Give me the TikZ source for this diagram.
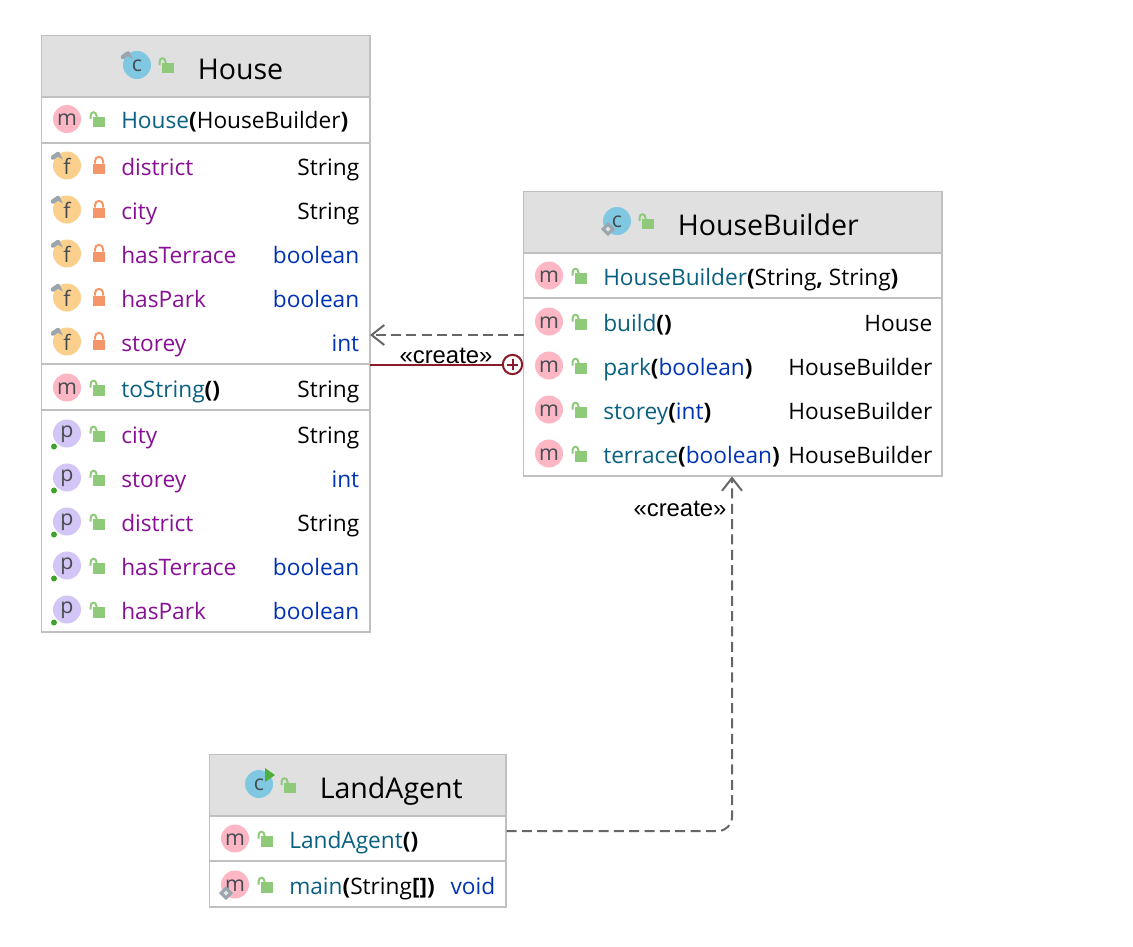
\documentclass[tikz,border=0pt]{standalone}
\usepackage{fontspec}
\usetikzlibrary{arrows.meta}
\setmainfont{Open Sans}
\newfontfamily\lblfont{Liberation Sans}
\definecolor{hdr}{HTML}{E0E0E0}
\definecolor{bord}{HTML}{C0C0C0}
\definecolor{icm}{HTML}{FCB6C4}
\definecolor{icf}{HTML}{FBD08C}
\definecolor{icp}{HTML}{D3C5F5}
\definecolor{icc}{HTML}{80C8E2}
\definecolor{lockg}{HTML}{8FC97A}
\definecolor{lockr}{HTML}{F5956A}
\definecolor{tealn}{HTML}{0A6080}
\definecolor{purp}{HTML}{871094}
\definecolor{kw}{HTML}{0033B3}
\definecolor{letter}{HTML}{454B50}
\definecolor{pincol}{HTML}{9AA5AE}
\definecolor{depcol}{HTML}{666666}
\definecolor{nestcol}{HTML}{8B1A2B}
\definecolor{dotg}{HTML}{3FA32B}
\definecolor{playg}{HTML}{4FAF3A}
\tikzset{
  x=0.75pt,y=-0.75pt,
  classbox/.style={draw=bord,line width=1.1pt,fill=white,inner sep=0pt,outer sep=0pt,anchor=north west},
  headbox/.style={fill=hdr,draw=none},
  sepline/.style={draw=bord,line width=1.5pt},
  rowtext/.style={anchor=base west,inner sep=0pt,font=\fontsize{17}{20}\selectfont},
  typetext/.style={anchor=base east,inner sep=0pt,font=\fontsize{17}{20}\selectfont},
  titletext/.style={anchor=base west,inner sep=0pt,font=\fontsize{21.4}{25}\selectfont,text=black},
  iconcirc/.style={circle,inner sep=0pt,minimum size=21pt,draw=none},
  iconletter/.style={anchor=center,inner sep=0pt,text=letter,font=\fontsize{16}{18}\selectfont},
  depline/.style={draw=depcol,line width=1.5pt,dash pattern=on 7.5pt off 4pt},
  deparrow/.style={depline,-{Straight Barb[length=9.5pt,width=15pt,line width=1.5pt]}},
  nestline/.style={draw=nestcol,line width=1.5pt},
  nestcirc/.style={circle,draw=nestcol,line width=1.5pt,fill=white,minimum size=14.5pt,inner sep=0pt},
  steretext/.style={anchor=base,inner sep=0pt,font=\lblfont\fontsize{17.9}{20}\selectfont,text=black},
}
\newcommand{\OpenLock}[2]{\begin{scope}[shift={(#1,#2)}]
  \fill[lockg] (-6,-2.5) rectangle (6,8);
  \draw[lockg,line width=1.5pt] (-8.5,0) -- (-8.5,-3) .. controls (-8.5,-8) and (-2.5,-8) .. (-2.5,-3) -- (-2.5,-2);
\end{scope}}
\newcommand{\ClosedLock}[2]{\begin{scope}[shift={(#1,#2)}]
  \fill[lockr] (-6,-2) rectangle (6,8.5);
  \draw[lockr,line width=1.5pt] (-4,-2) -- (-4,-4.5) .. controls (-4,-10) and (4,-10) .. (4,-4.5) -- (4,-2);
\end{scope}}
\newcommand{\FinalPin}[2]{\begin{scope}[shift={(#1,#2)}]
  \draw[pincol,line width=3.4pt,line cap=round] (-14,-8) -- (-9,-11.5);
  \fill[pincol] (-11,-10) -- (-4,-6) -- (-7,-12) -- cycle;
\end{scope}}
\newcommand{\PkgDiamond}[2]{\begin{scope}[shift={(#1,#2)}]
  \fill[pincol] (0,-7) -- (7,0) -- (0,7) -- (-7,0) -- cycle;
  \fill[white!70!pincol] (0,-2.5) -- (2.5,0) -- (0,2.5) -- (-2.5,0) -- cycle;
\end{scope}}
\newcommand{\PropDot}[2]{\fill[dotg] (#1-13,#2+13) circle (3);}
% \Icon{id}{x}{y}{colour}{letter}
\newcommand{\Icon}[5]{\node[iconcirc,fill=#4] (#1) at (#2,#3) {};
  \node[iconletter] (#1-l) at (#2,#3+1) {#5};}
% \Row{id}{icon x}{baseline}{colour}{letter}{lock macro}{name colour}{name}
\newcommand{\Row}[8]{\Icon{#1}{#2}{#3-9.5}{#4}{#5}
  \pgfmathsetmacro{\lx}{#2+32}\pgfmathsetmacro{\ly}{#3-9.5}
  #6{\lx}{\ly}
  \pgfmathsetmacro{\tx}{#2+54}
  \node[rowtext,text=#7] (#1-n) at (\tx,#3) {#8};}
% \Type{id}{baseline}{colour}{right x}{text}
\newcommand{\Type}[5]{\node[typetext,text=#3] (#1-t) at (#4,#2) {#5};}
\newcommand{\B}[1]{{\bfseries\textcolor{black}{#1}}}
\newcommand{\Bk}[1]{\textcolor{black}{#1}}
\newcommand{\K}[1]{\textcolor{kw}{#1}}
\newcommand{\FieldRow}[5]{\Row{#1}{67}{#2}{icf}{f}{\ClosedLock}{purp}{#3}
  \FinalPin{67}{#2-9.5}
  \Type{#1}{#2}{#4}{359.5}{#5}}
\newcommand{\PropRow}[5]{\Row{#1}{67}{#2}{icp}{p}{\OpenLock}{purp}{#3}
  \pgfmathsetmacro{\ly}{#2-9.5}\PropDot{67}{\ly}
  \Type{#1}{#2}{#4}{359.5}{#5}}
\begin{document}
\begin{tikzpicture}
\useasboundingbox (0,0) rectangle (1133,947);
\fill[white] (0,0) rectangle (1133,947);

% ===== House =====
\node[classbox,minimum width=246.4pt,minimum height=447.4pt] (house) at (41.5,35.5) {};
\fill[headbox] (42.2,36.2) rectangle (369.3,96);
\draw[sepline] (42.2,96.5) -- (369.3,96.5) (42.2,142.5) -- (369.3,142.5) (42.2,364) -- (369.3,364) (42.2,410) -- (369.3,410);
\Icon{hc}{137}{65}{icc}{c}
\FinalPin{137}{65}
\OpenLock{168}{65}
\node[titletext] (houset) at (197.5,79) {House};
\Row{hm0}{67}{128.5}{icm}{m}{\OpenLock}{tealn}{House\B{(}\Bk{HouseBuilder}\B{)}}
\FieldRow{hf1}{175}{district}{black}{String}
\FieldRow{hf2}{219}{city}{black}{String}
\FieldRow{hf3}{263}{hasTerrace}{kw}{boolean}
\FieldRow{hf4}{307}{hasPark}{kw}{boolean}
\FieldRow{hf5}{351}{storey}{kw}{int}
\Row{hm1}{67}{397}{icm}{m}{\OpenLock}{tealn}{toString\B{()}}
\Type{hm1}{397}{black}{359.5}{String}
\PropRow{hp1}{443}{city}{black}{String}
\PropRow{hp2}{487}{storey}{kw}{int}
\PropRow{hp3}{531}{district}{black}{String}
\PropRow{hp4}{575}{hasTerrace}{kw}{boolean}
\PropRow{hp5}{619}{hasPark}{kw}{boolean}

% ===== HouseBuilder =====
\node[classbox,minimum width=314pt,minimum height=213.4pt] (builder) at (523.5,191.5) {};
\fill[headbox] (524.2,192.2) rectangle (941.4,252);
\draw[sepline] (524.2,252.5) -- (941.4,252.5) (524.2,298) -- (941.4,298);
\Icon{bc}{617}{221}{icc}{c}
\PkgDiamond{608}{229}
\OpenLock{648}{221}
\node[titletext] (buildert) at (677.5,235) {HouseBuilder};
\Row{bm0}{549}{285}{icm}{m}{\OpenLock}{tealn}{HouseBuilder\B{(}\Bk{String}\B{,} \Bk{String}\B{)}}
\Row{bm1}{549}{331}{icm}{m}{\OpenLock}{tealn}{build\B{()}}
\Type{bm1}{331}{black}{932.5}{House}
\Row{bm2}{549}{375}{icm}{m}{\OpenLock}{tealn}{park\B{(}\K{boolean}\B{)}}
\Type{bm2}{375}{black}{932.5}{HouseBuilder}
\Row{bm3}{549}{419}{icm}{m}{\OpenLock}{tealn}{storey\B{(}\K{int}\B{)}}
\Type{bm3}{419}{black}{932.5}{HouseBuilder}
\Row{bm4}{549}{463}{icm}{m}{\OpenLock}{tealn}{terrace\B{(}\K{boolean}\B{)}}
\Type{bm4}{463}{black}{932.5}{HouseBuilder}

% ===== LandAgent =====
\node[classbox,minimum width=222.3pt,minimum height=114.4pt] (agent) at (209.5,754.5) {};
\fill[headbox] (210.2,755.2) rectangle (505.4,815);
\draw[sepline] (210.2,815.5) -- (505.4,815.5) (210.2,861) -- (505.4,861);
\Icon{ac}{259}{784}{icc}{c}
\fill[playg] (265,768) -- (275,775) -- (265,782) -- cycle;
\OpenLock{290}{785}
\node[titletext] (agentt) at (319.5,798) {LandAgent};
\Row{am0}{235}{848}{icm}{m}{\OpenLock}{tealn}{LandAgent\B{()}}
\Row{am1}{235}{894}{icm}{m}{\OpenLock}{tealn}{main\B{(}\Bk{String}\B{[])}}
\PkgDiamond{226}{893}
\Type{am1}{894}{kw}{495.5}{void}

% ===== Connectors =====
\coordinate (b1) at (523.5,335);
\coordinate (h1) at (370,335);
\coordinate (h2) at (370,364.5);
\coordinate (a1) at (506.5,831);
\coordinate (bend) at (732,831);
\coordinate (b2) at (732,476.5);
\draw[deparrow] (b1) -- (h1);
\node[steretext] (cr1) at (446,363) {«create»};
\node[nestcirc] (nc) at (512.5,364.5) {};
\draw[nestline] (h2) -- (nc.west);
\draw[nestline] ([xshift=-3.9pt]nc.center) -- ([xshift=3.9pt]nc.center) ([yshift=-3.9pt]nc.center) -- ([yshift=3.9pt]nc.center);
\draw[deparrow,rounded corners=10.5pt] (a1) -- (bend) -- (b2);
\node[steretext] (cr2) at (680,516) {«create»};
\end{tikzpicture}
\end{document}
